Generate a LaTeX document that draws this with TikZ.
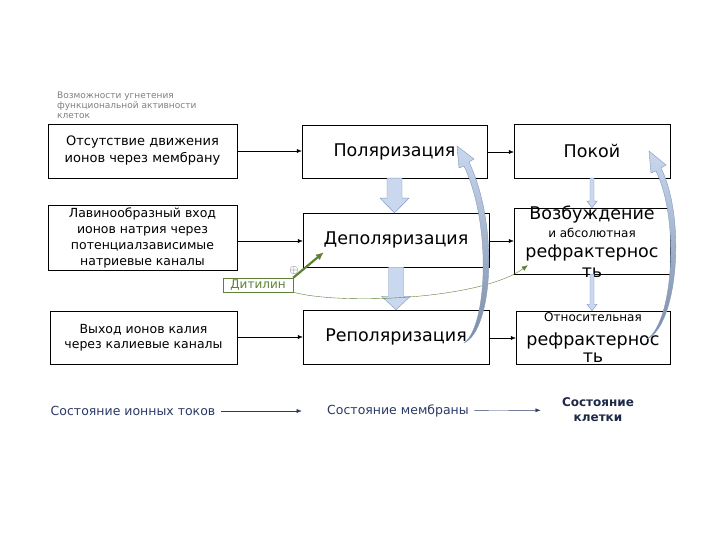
\documentclass[tikz,border=0pt]{standalone}
\usepackage{fontspec}
\setmainfont{DejaVu Sans}
\usetikzlibrary{positioning, arrows.meta, calc}

\definecolor{pale}{HTML}{C9D8EE}
\definecolor{paleline}{HTML}{7F99C0}
\definecolor{slate}{HTML}{7C8CA6}
\definecolor{olive}{HTML}{5F8136}
\definecolor{ink}{HTML}{2B3A67}

\begin{document}
\begin{tikzpicture}[x=1pt, y=-1pt,
	box/.style={draw, thin, inner sep=1pt, align=center},
	link/.style={-{Latex[length=5pt, width=4pt]}, thin},
	fat/.style={draw=paleline, fill=pale, thin},
	bendarrow/.style={draw=paleline, top color=pale, bottom color=slate, thin},
	bigtext/.style={font=\fontsize{17.5}{20}\selectfont},
	smalltext/.style={font=\fontsize{12}{15}\selectfont},
	state/.style={text=ink, font=\fontsize{12.5}{15}\selectfont, align=center}]
	\fill[white] (0,0) rectangle (720,540);
	\useasboundingbox (0,0) rectangle (720,540);
	% caption
	\node[anchor=north west, align=left, text=gray, inner sep=0pt,
		font=\fontsize{9}{10}\selectfont] (note) at (57,92)
		{Возможности угнетения\\функциональной активности\\клеток};
	% ion currents
	\node[box, minimum width=189pt, minimum height=54pt, font=\fontsize{13}{17}\selectfont]
		(l1) at (142.5,151) {Отсутствие движения\\ионов через мембрану};
	\node[box, minimum width=189pt, minimum height=65pt, font=\fontsize{12.5}{16}\selectfont]
		(l2) at (142.5,237.5) {Лавинообразный вход\\ионов натрия через\\потенциалзависимые\\натриевые каналы};
	\node[box, minimum width=187pt, minimum height=53pt, font=\fontsize{12.5}{15.5}\selectfont]
		(l3) at (143.5,337.5) {Выход ионов калия\\через калиевые каналы};
	% membrane
	\node[box, bigtext, minimum width=185pt, minimum height=53pt] (m1) at (394.5,151.5) {Поляризация};
	\node[box, bigtext, minimum width=186pt, minimum height=54pt] (m2) at (396,240) {Деполяризация};
	\node[box, bigtext, minimum width=186pt, minimum height=54pt] (m3) at (396,337) {Реполяризация};
	% cell
	\node[box, bigtext, minimum width=156pt, minimum height=54pt] (r1) at (592,151) {Покой};
	\node[box, minimum width=156pt, minimum height=66pt] (r2) at (592,241) {};
	\node[box, minimum width=154pt, minimum height=53pt] (r3) at (593,337.5) {};
	\node[bigtext, anchor=base, inner sep=0pt] (r2a) at (592,220) {Возбуждение};
	\node[smalltext, anchor=base, inner sep=0pt] (r2b) at (592,237) {и абсолютная};
	\node[bigtext, anchor=base, inner sep=0pt] (r2c) at (592,258) {рефрактернос};
	\node[bigtext, anchor=base, inner sep=0pt] (r2d) at (592,277) {ть};
	\node[smalltext, anchor=base, inner sep=0pt] (r3a) at (593,321) {Относительная};
	\node[bigtext, anchor=base, inner sep=0pt] (r3b) at (593,345) {рефрактернос};
	\node[bigtext, anchor=base, inner sep=0pt] (r3c) at (593,362) {ть};
	% horizontal links
	\draw[link] (l1.east |- 0,151) -- (m1.west |- 0,151);
	\draw[link] (l2.east |- 0,241) -- (m2.west |- 0,241);
	\draw[link] (l3.east |- 0,337) -- (m3.west |- 0,337);
	\draw[link] (m1.east |- 0,152) -- (r1.west |- 0,152);
	\draw[link] (m2.east |- 0,241) -- (r2.west |- 0,241);
	\draw[link] (m3.east |- 0,338) -- (r3.west |- 0,338);
	% block arrows down
	\draw[fat] ($(m1.south)+(-7.5,0)$) -- ++(0,20) -- ++(-7,0) -- (m1.south |- m2.north)
		-- ($(m1.south)+(14.5,20)$) -- ++(-7,0) -- ($(m1.south)+(7.5,0)$) -- cycle;
	\draw[fat] ($(m2.south)+(-7.5,0)$) -- ++(0,29) -- ++(-7,0) -- (m2.south |- m3.north)
		-- ($(m2.south)+(14.5,29)$) -- ++(-7,0) -- ($(m2.south)+(7.5,0)$) -- cycle;
	\draw[fat] ($(r1.south)+(-2,0)$) -- ++(0,23) -- ++(-3,0) -- (r1.south |- r2.north)
		-- ($(r1.south)+(5,23)$) -- ++(-3,0) -- ($(r1.south)+(2,0)$) -- cycle;
	\draw[fat] ($(r2.south)+(-2,0)$) -- ++(0,30) -- ++(-3,0) -- (r2.south |- r3.north)
		-- ($(r2.south)+(5,30)$) -- ++(-3,0) -- ($(r2.south)+(2,0)$) -- cycle;
	% ditilin
	\node[draw=olive, text=olive, inner sep=0pt, minimum width=70pt, minimum height=14pt,
		font=\fontsize{12}{14}\selectfont] (dith) at (258,285) {Дитилин};
	\node[text=black!65, inner sep=0pt, font=\fontsize{12}{12}\selectfont] (plus) at (294,270) {$\oplus$};
	\draw[olive, line width=2.2pt, -{Latex[length=8pt, width=7pt]}] (dith.north east) -- ($(m2.south west)+(21,-15)$);
	\draw[olive, thin, -{Latex[length=6pt, width=5pt]}] (dith.south east)
		.. controls (340,305) and (480,300) .. ($(r2.south west)+(14,-9)$);
	% curved returns
	\draw[bendarrow] (464,343) .. controls (493,330) and (499,225) .. (469,162)
		-- (474,159) -- (457,146) -- (459,168) -- (464,166)
		.. controls (492,225) and (487,327) .. (464,343) -- cycle;
	\draw[bendarrow] (647,339) .. controls (678,325) and (686,218) .. (661,168)
		-- (666,165) -- (649,151) -- (651,173) -- (656,171)
		.. controls (680,220) and (673,323) .. (647,339) -- cycle;
	% bottom row
	\node[state] (ions) at (133,411) {Состояние ионных токов};
	\node[state] (memb) at (398,411) {Состояние мембраны};
	\node[state, font=\bfseries\fontsize{12}{15}\selectfont, text=ink!70!black] (cell) at (598,410) {Состояние\\клетки};
	\draw[ink, thin, -{Latex[length=5pt, width=4pt]}, shorten <=2pt, shorten >=22pt] (ions) -- (memb);
	\draw[ink, thin, -{Latex[length=5pt, width=4pt]}, shorten <=2pt, shorten >=18pt] (memb) -- (cell);
\end{tikzpicture}
\end{document}
